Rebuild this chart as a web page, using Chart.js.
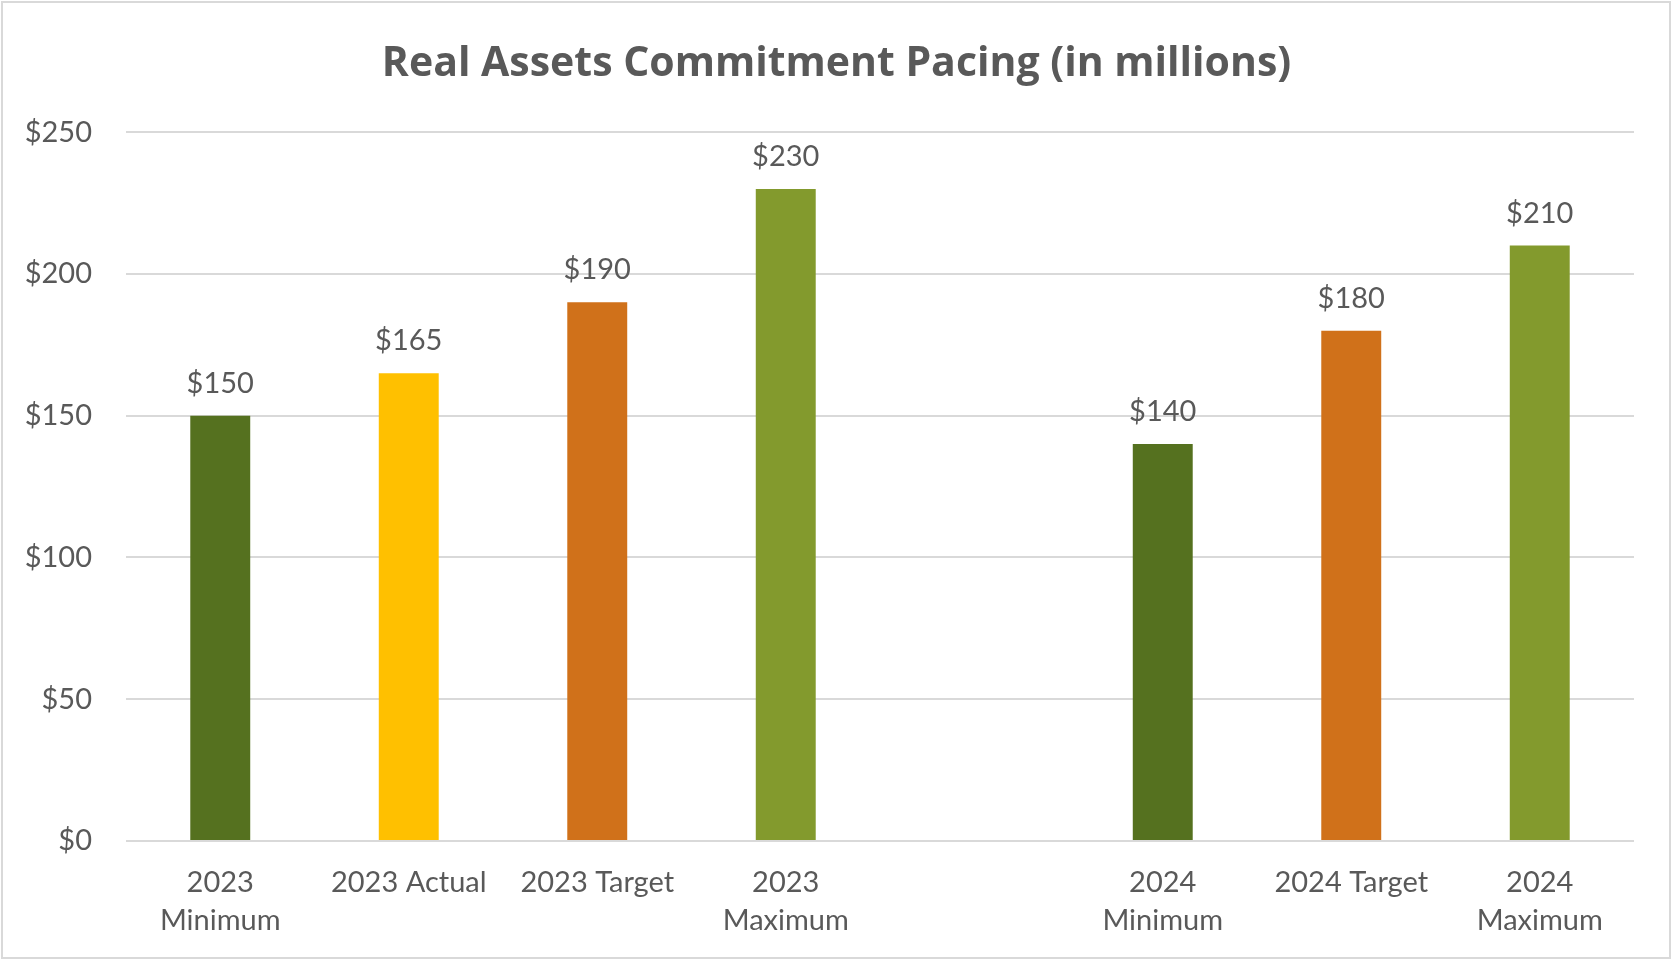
<!DOCTYPE html>
<html>
<head>
<meta charset="utf-8">
<script src="https://cdn.jsdelivr.net/npm/chart.js@4/dist/chart.umd.min.js"></script>
<style>
  html, body { margin: 0; padding: 0; background: #ffffff; }
  #wrap { position: relative; width: 1673px; height: 961px; }
  canvas { display: block; }
</style>
</head>
<body>
<div id="wrap"><canvas id="c" width="1673" height="961"></canvas></div>
<script>
// ---- data ----
const titleText = "Real Assets Commitment Pacing (in millions)";
const categories = [
  ["2023", "Minimum"],
  "2023 Actual",
  "2023 Target",
  ["2023", "Maximum"],
  "",
  ["2024", "Minimum"],
  "2024 Target",
  ["2024", "Maximum"]
];
const values = [150, 165, 190, 230, null, 140, 180, 210];
const barColors = ["#55711F", "#FFC000", "#D0711A", "#839A2D", "#ffffff", "#55711F", "#D0711A", "#839A2D"];
const yTicks = [0, 50, 100, 150, 200, 250];

const FONT = "Lato, 'Open Sans', 'DejaVu Sans', sans-serif";
const TITLE_FONT = "'Open Sans', Lato, 'DejaVu Sans', sans-serif";
const TEXT = "#595959";

const frame = {
  id: "frame",
  beforeDraw(chart) {
    const ctx = chart.ctx;
    ctx.save();
    ctx.fillStyle = "#ffffff";
    ctx.fillRect(0, 0, chart.width, chart.height);
    ctx.strokeStyle = "#D9D9D9";
    ctx.lineWidth = 2;
    ctx.strokeRect(2, 2, 1668, 956);
    ctx.restore();
  }
};

const valueLabels = {
  id: "valueLabels",
  afterDatasetsDraw(chart) {
    const ctx = chart.ctx;
    const ds = chart.data.datasets[0];
    const meta = chart.getDatasetMeta(0);
    ctx.save();
    ctx.font = "29px " + FONT;
    ctx.fillStyle = TEXT;
    ctx.textAlign = "center";
    ctx.textBaseline = "alphabetic";
    meta.data.forEach((bar, i) => {
      const v = ds.data[i];
      if (v === null || v === undefined) return;
      ctx.fillText("$" + v, bar.x, bar.y - 23);
    });
    ctx.restore();
  }
};

new Chart(document.getElementById("c"), {
  type: "bar",
  data: {
    labels: categories,
    datasets: [{
      data: values,
      backgroundColor: barColors,
      borderWidth: 0,
      categoryPercentage: 1.0,
      barPercentage: 0.318
    }]
  },
  options: {
    responsive: false,
    animation: false,
    events: [],
    layout: { padding: { left: 0, right: 0, top: 0, bottom: 0 } },
    plugins: {
      legend: { display: false },
      tooltip: { enabled: false },
      title: {
        display: true,
        text: titleText,
        color: TEXT,
        font: { family: TITLE_FONT, size: 41, weight: "bold", lineHeight: 1.2 },
        padding: { top: 40, bottom: 43 }
      }
    },
    scales: {
      x: {
        grid: { display: false, drawTicks: false },
        border: { display: false },
        ticks: {
          color: TEXT,
          font: { family: FONT, size: 29, lineHeight: 1.3 },
          padding: 23,
          maxRotation: 0,
          autoSkip: false
        },
        afterFit(scale) { scale.height = 120; }
      },
      y: {
        min: 0,
        max: 250,
        afterBuildTicks(scale) { scale.ticks = yTicks.map(v => ({ value: v })); },
        grid: { color: "#D9D9D9", lineWidth: 2, drawTicks: false },
        border: { display: false },
        ticks: {
          color: TEXT,
          font: { family: FONT, size: 29 },
          padding: 34,
          callback: v => "$" + v
        },
        afterFit(scale) { scale.width = 126; }
      },
      yRightSpace: {
        type: "linear",
        position: "right",
        display: true,
        grid: { display: false, drawTicks: false },
        border: { display: false },
        ticks: { display: false },
        afterFit(scale) { scale.width = 39; }
      }
    }
  },
  plugins: [frame, valueLabels]
});
</script>
</body>
</html>
